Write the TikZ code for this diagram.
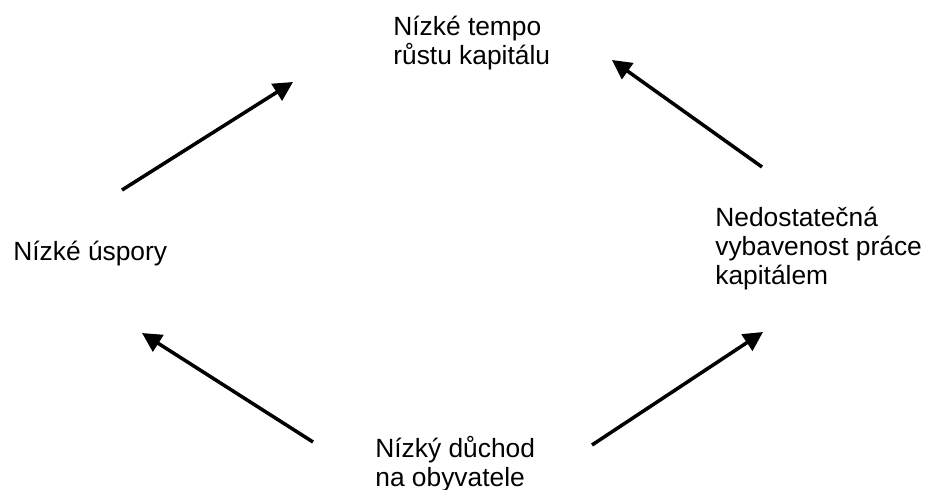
\documentclass[tikz,border=0pt]{standalone}
\usepackage{fontspec}
\setmainfont{Liberation Sans}
\usetikzlibrary{arrows.meta}

\begin{document}
\begin{tikzpicture}[x=0.02cm, y=-0.02cm,
                    main node/.style={align=left, inner sep=0pt, anchor=base west,
                                      font=\fontsize{15}{16.3}\selectfont},
                    flow/.style={line width=2pt, -{Triangle[length=11pt, width=11pt]}}]
  \useasboundingbox (0,0) rectangle (927,490);

  \node[main node] (1) at (393,64) {Nízké tempo\\růstu kapitálu};
  \node[main node] (2) at (13,260) {Nízké úspory};
  \node[main node] (3) at (375,486) {Nízký důchod\\na obyvatele};
  \node[main node] (4) at (715,284) {Nedostatečná\\vybavenost práce\\kapitálem};

  % arrow ends
  \coordinate (a1) at (122,190); \coordinate (b1) at (293,82);
  \coordinate (a2) at (762,167); \coordinate (b2) at (612,60);
  \coordinate (a3) at (313,442); \coordinate (b3) at (142,333);
  \coordinate (a4) at (592,445); \coordinate (b4) at (763,332);

  \path[flow]
    (a1) edge (b1)
    (a2) edge (b2)
    (a3) edge (b3)
    (a4) edge (b4);
\end{tikzpicture}
\end{document}
